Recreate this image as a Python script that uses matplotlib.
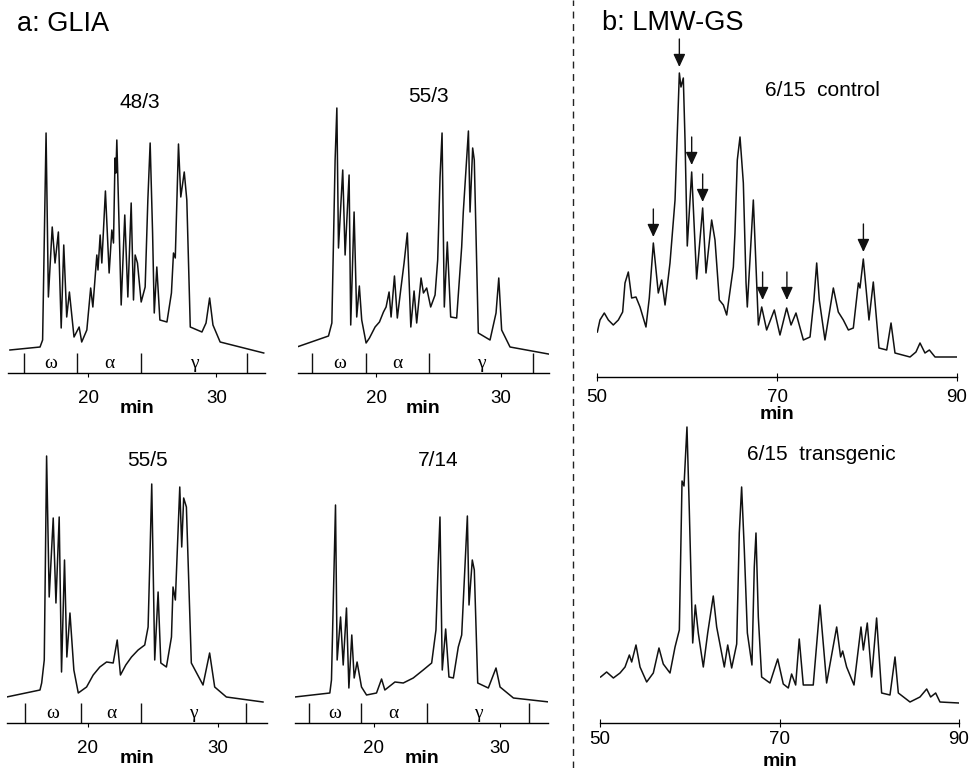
import matplotlib
matplotlib.use("Agg")
import matplotlib.pyplot as plt
from matplotlib.lines import Line2D

plt.rcParams['font.family'] = ['Liberation Sans', 'DejaVu Sans']

W, H = 969, 768

# ---- a: GLIA chromatograms (retention time in min, signal in arbitrary units) ----
t_48_3 = [13.9, 16.25, 16.45, 16.72, 16.9, 17.2, 17.42, 17.68, 17.9, 18.1, 18.33, 18.54,
          18.9, 19.3, 19.5, 19.9, 20.2, 20.37, 20.68, 20.77, 20.94, 21.07, 21.35, 21.64,
          21.85, 21.98, 22.1, 22.17, 22.24, 22.58, 22.86, 23.1, 23.36, 23.54, 23.67, 23.85,
          24.14, 24.45, 24.66, 24.84, 25.03, 25.16, 25.36, 25.6, 26.15, 26.5, 26.66, 26.8,
          27.05, 27.23, 27.5, 27.7, 27.97, 28.88, 29.2, 29.48, 29.74, 30.3, 33.7]
s_48_3 = [23, 26, 33, 240, 76, 146, 110, 141, 45, 128, 56, 81,
          36, 46, 31, 43, 85, 66, 118, 103, 138, 110, 182, 100,
          143, 130, 215, 200, 233, 68, 158, 76, 170, 73, 118, 110,
          71, 86, 173, 230, 140, 60, 106, 53, 51, 80, 120, 115,
          229, 176, 201, 173, 46, 41, 50, 75, 48, 31, 20]

t_55_3 = [13.66, 16.19, 16.46, 16.72, 16.86, 16.99, 17.33, 17.52, 17.84, 17.97, 18.24, 18.45,
          18.66, 18.85, 19.2, 19.47, 19.92, 20.27, 20.59, 20.8, 21.04, 21.2, 21.47, 21.7,
          21.97, 22.24, 22.5, 22.78, 23.04, 23.25, 23.6, 23.79, 24.05, 24.37, 24.72, 24.93,
          25.12, 25.28, 25.46, 25.7, 25.97, 26.45, 26.85, 26.98, 27.39, 27.52, 27.73, 27.86,
          28.18, 29.12, 29.6, 29.82, 30.05, 30.72, 33.79]
s_55_3 = [26, 37, 50, 213, 265, 125, 203, 118, 198, 48, 161, 56,
          87, 53, 30, 35, 46, 51, 61, 66, 81, 56, 97, 55,
          83, 110, 140, 46, 82, 50, 95, 80, 85, 66, 78, 113,
          196, 240, 66, 131, 56, 55, 126, 161, 242, 161, 225, 213,
          40, 33, 60, 95, 43, 26, 19]

t_55_5 = [13.74, 16.31, 16.44, 16.64, 16.82, 17.02, 17.33, 17.54, 17.79, 17.97, 18.2, 18.38,
          18.62, 18.92, 19.26, 19.9, 20.41, 20.92, 21.44, 21.95, 22.26, 22.51, 22.92, 23.36,
          23.87, 24.38, 24.64, 24.77, 24.92, 25.15, 25.41, 25.62, 26.05, 26.44, 26.56, 26.74,
          27.08, 27.23, 27.38, 27.59, 27.97, 28.87, 29.38, 29.77, 30.67, 33.49]
s_55_5 = [26, 33, 40, 63, 267, 126, 205, 120, 206, 51, 163, 66,
          110, 53, 30, 36, 48, 56, 61, 60, 83, 48, 58, 66,
          73, 78, 96, 160, 239, 63, 131, 60, 56, 86, 136, 123,
          236, 176, 225, 216, 60, 38, 70, 36, 26, 21]

t_7_14 = [13.73, 16.51, 16.64, 16.96, 17.09, 17.36, 17.57, 17.83, 18.02, 18.25, 18.44, 18.67,
          19.02, 19.42, 20.21, 20.61, 20.87, 21.67, 22.33, 23.12, 23.91, 24.58, 24.92, 25.1,
          25.24, 25.42, 25.69, 25.95, 26.3, 26.69, 26.96, 27.41, 27.54, 27.8, 27.96, 28.23,
          29.07, 29.68, 30.0, 31.06, 33.9]
s_7_14 = [26, 30, 43, 218, 63, 106, 58, 115, 35, 88, 45, 61,
          36, 28, 30, 44, 33, 41, 40, 45, 53, 60, 93, 160,
          206, 53, 94, 46, 45, 76, 88, 207, 118, 163, 153, 40,
          35, 55, 36, 25, 21]

# fraction boundaries (omega / alpha / gamma) for each GLIA run
bounds_48_3 = [15.0, 19.14, 24.14, 32.4]
bounds_55_3 = [14.9, 19.2, 24.24, 32.56]
bounds_55_5 = [15.15, 19.5, 24.1, 32.2]
bounds_7_14 = [14.84, 18.97, 24.2, 32.3]
fractions = ['\u03c9', '\u03b1', '\u03b3']

# ---- b: LMW-GS chromatograms ----
t_ctrl = [50.04, 50.33, 50.81, 51.26, 51.81, 52.37, 52.85, 53.11, 53.48, 53.85, 54.33, 54.78,
          55.44, 55.81, 56.26, 56.81, 57.19, 57.56, 58.11, 58.67, 59.15, 59.33, 59.59, 59.78,
          60.03, 60.52, 61.07, 61.74, 62.11, 62.74, 63.11, 63.59, 64.04, 64.41, 65.15, 65.33,
          65.59, 65.89, 66.26, 66.56, 66.7, 67.37, 67.93, 68.3, 68.85, 69.7, 70.33, 71.07,
          71.56, 72.11, 72.93, 73.67, 74.1, 74.41, 74.7, 75.33, 76.26, 76.81, 77.37, 77.93,
          78.48, 79.04, 79.22, 79.59, 80.22, 80.7, 81.33, 82.19, 82.67, 83.11, 84.78, 85.44,
          85.89, 86.44, 86.93, 87.56, 89.97]
s_ctrl = [45, 57, 64, 57, 52, 57, 65, 94, 105, 79, 80, 70,
          50, 79, 134, 84, 97, 72, 114, 177, 304, 290, 299, 237,
          131, 205, 98, 169, 104, 157, 137, 77, 72, 62, 110, 144,
          217, 240, 194, 94, 70, 177, 52, 70, 47, 67, 42, 69,
          52, 64, 37, 40, 77, 114, 77, 37, 89, 65, 57, 47,
          49, 94, 89, 118, 57, 95, 29, 27, 54, 24, 20, 25,
          34, 24, 27, 20, 20]

# peaks marked with arrows in the control run
arrow_t = [56.26, 59.15, 60.52, 61.74, 68.4, 71.1, 79.6]
arrow_s = [140, 310, 212, 175, 77, 77, 125]

t_trans = [50.07, 50.74, 51.49, 52.23, 52.79, 53.27, 53.53, 54.01, 54.46, 55.2, 55.94, 56.57,
           57.05, 57.8, 58.36, 58.84, 59.14, 59.36, 59.69, 59.95, 60.33, 60.62, 60.95, 61.51,
           62.0, 62.62, 63.0, 63.85, 64.23, 64.67, 65.23, 65.52, 65.78, 66.08, 66.42, 66.93,
           67.19, 67.38, 67.64, 68.01, 68.94, 69.8, 70.42, 70.98, 71.35, 71.8, 72.2, 72.65,
           73.76, 74.51, 75.25, 76.37, 76.81, 77.04, 77.48, 78.3, 79.08, 79.34, 79.78, 80.27,
           80.82, 81.38, 82.31, 82.87, 83.24, 84.54, 85.65, 86.4, 86.84, 87.4, 87.88, 89.99]
s_trans = [46, 51, 45, 50, 56, 68, 61, 78, 56, 41, 50, 75,
           59, 50, 76, 93, 242, 237, 296, 213, 80, 118, 90, 56,
           90, 127, 96, 56, 78, 55, 79, 190, 236, 173, 90, 58,
           156, 190, 106, 46, 40, 64, 39, 35, 49, 38, 84, 38,
           38, 118, 40, 96, 66, 72, 56, 38, 96, 73, 100, 46,
           105, 30, 28, 66, 30, 21, 26, 34, 26, 30, 21, 20]

fig = plt.figure(figsize=(W / 100, H / 100), dpi=100)


def px_axes(x0, x1, base, height):
    # axes placed in pixel coordinates; base is the y of the time axis line
    ax = fig.add_axes([x0 / W, (H - base) / H, (x1 - x0) / W, height / H])
    ax.patch.set_visible(False)
    for side in ['top', 'left', 'right']:
        ax.spines[side].set_visible(False)
    ax.spines['bottom'].set_linewidth(1.0)
    ax.set_yticks([])
    ax.set_ylim(0, height)
    return ax


def glia_panel(x0, x1, base, t, s, bounds, name, name_t, name_s):
    ax = px_axes(x0, x1, base, 300)
    ax.set_xlim(13.75, 33.8)
    ax.plot(t, s, color='#111111', lw=1.1)
    ax.vlines(bounds, 0, 20, color='#111111', lw=1.0)
    for i, lab in enumerate(fractions):
        ax.text((bounds[i] + bounds[i + 1]) / 2, 9, lab, ha='center', va='center',
                fontsize=14, family=['Liberation Serif', 'DejaVu Serif'])
    ax.set_xticks([20, 30])
    ax.tick_params(axis='x', direction='out', length=3, width=0.8, pad=9, labelsize=13.5)
    ax.set_xlabel('min', fontsize=14, fontweight='bold', labelpad=-4.5)
    ax.text(name_t, name_s, name, ha='center', va='center', fontsize=15)
    return ax


glia_panel(8, 265, 373, t_48_3, s_48_3, bounds_48_3, '48/3', 24.06, 271)
glia_panel(298, 548.5, 373, t_55_3, s_55_3, bounds_55_3, '55/3', 24.16, 276)
glia_panel(6.75, 267, 723, t_55_5, s_55_5, bounds_55_5, '55/5', 24.6, 263)
glia_panel(295, 548, 723, t_7_14, s_7_14, bounds_7_14, '7/14', 25.08, 263)

# LMW-GS panels
ax_c = px_axes(597, 957, 377, 350)
ax_c.set_xlim(50, 90)
ax_c.plot(t_ctrl, s_ctrl, color='#111111', lw=1.1)
for at, ah in zip(arrow_t, arrow_s):
    ax_c.annotate('', xy=(at, ah), xytext=(at, ah + 28),
                  arrowprops=dict(arrowstyle='-|>,head_length=0.65,head_width=0.3',
                                  color='#111111', lw=1.0, mutation_scale=12,
                                  shrinkA=0, shrinkB=0))
ax_c.text(75.1, 287, '6/15  control', ha='center', va='center', fontsize=15)
ax_c.set_xticks([50, 70, 90])
ax_c.tick_params(axis='x', direction='inout', length=6, width=0.8, pad=5.5, labelsize=13.5)
ax_c.set_xlabel('min', fontsize=14, fontweight='bold', labelpad=0)

ax_t = px_axes(600, 959, 723, 340)
ax_t.set_xlim(50, 90)
ax_t.plot(t_trans, s_trans, color='#111111', lw=1.1)
ax_t.text(74.7, 269, '6/15  transgenic', ha='center', va='center', fontsize=15)
ax_t.set_xticks([50, 70, 90])
ax_t.tick_params(axis='x', direction='inout', length=6, width=0.8, pad=3, labelsize=13.5)
ax_t.set_xlabel('min', fontsize=14, fontweight='bold', labelpad=3)

fig.text(17 / W, 1 - 24 / H, 'a: GLIA', ha='left', va='center', fontsize=19.5)
fig.text(602 / W, 1 - 23 / H, 'b: LMW-GS', ha='left', va='center', fontsize=19.5)

fig.add_artist(Line2D([573 / W, 573 / W], [0, 1], color='#222222', lw=1.0,
                      linestyle=(0, (5, 4))))

fig.savefig('out.png', dpi=100)
